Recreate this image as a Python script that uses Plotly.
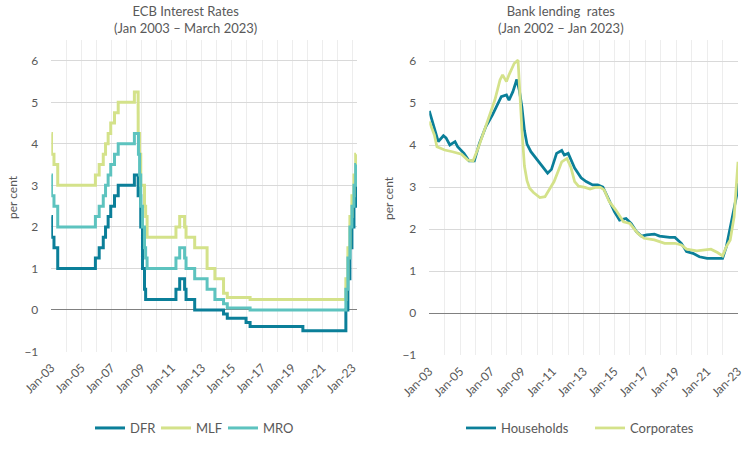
import plotly.graph_objects as go

# ---------------- Left panel: ECB interest rates (step data: change dates and levels) -------------
dfr_dates = ["2003-01-01", "2003-01-06", "2003-03-07", "2003-06-06", "2005-12-06", "2006-03-08",
             "2006-06-15", "2006-08-09", "2006-10-11", "2006-12-13", "2007-03-14", "2007-06-13",
             "2008-07-09", "2008-10-08", "2008-10-09", "2008-11-12", "2008-12-10", "2009-01-21",
             "2009-03-11", "2009-04-08", "2011-04-13", "2011-07-13", "2011-11-09", "2011-12-14",
             "2012-07-11", "2014-06-11", "2014-09-10", "2015-12-09", "2016-03-16", "2019-09-18",
             "2022-07-27", "2022-09-14", "2022-11-02", "2022-12-21", "2023-02-08", "2023-03-22",
             "2023-03-31"]
dfr_vals = [2.25, 1.75, 1.50, 1.00, 1.25, 1.50, 1.75, 2.00, 2.25, 2.50, 2.75, 3.00,
            3.25, 2.75, 3.25, 2.75, 2.00, 1.00, 0.50, 0.25, 0.50, 0.75, 0.50, 0.25,
            0.00, -0.10, -0.20, -0.30, -0.40, -0.50, 0.00, 0.75, 1.50, 2.00, 2.50, 3.00, 3.00]

mlf_dates = ["2003-01-01", "2003-01-06", "2003-03-07", "2003-06-06", "2005-12-06", "2006-03-08",
             "2006-06-15", "2006-08-09", "2006-10-11", "2006-12-13", "2007-03-14", "2007-06-13",
             "2008-07-09", "2008-10-08", "2008-10-09", "2008-11-12", "2008-12-10", "2009-03-11",
             "2009-04-08", "2009-05-13", "2011-04-13", "2011-07-13", "2011-11-09", "2011-12-14",
             "2012-07-11", "2013-05-08", "2013-11-13", "2014-06-11", "2014-09-10", "2016-03-16",
             "2022-07-27", "2022-09-14", "2022-11-02", "2022-12-21", "2023-02-08", "2023-03-22",
             "2023-03-31"]
mlf_vals = [4.25, 3.75, 3.50, 3.00, 3.25, 3.50, 3.75, 4.00, 4.25, 4.50, 4.75, 5.00,
            5.25, 4.75, 4.25, 3.75, 3.00, 2.50, 2.25, 1.75, 2.00, 2.25, 2.00, 1.75,
            1.50, 1.00, 0.75, 0.40, 0.30, 0.25, 0.75, 1.50, 2.25, 2.75, 3.25, 3.75, 3.75]

mro_dates = ["2003-01-01", "2003-01-06", "2003-03-07", "2003-06-06", "2005-12-06", "2006-03-08",
             "2006-06-15", "2006-08-09", "2006-10-11", "2006-12-13", "2007-03-14", "2007-06-13",
             "2008-07-09", "2008-10-15", "2008-11-12", "2008-12-10", "2009-01-21", "2009-03-11",
             "2009-04-08", "2009-05-13", "2011-04-13", "2011-07-13", "2011-11-09", "2011-12-14",
             "2012-07-11", "2013-05-08", "2013-11-13", "2014-06-11", "2014-09-10", "2016-03-16",
             "2022-07-27", "2022-09-14", "2022-11-02", "2022-12-21", "2023-02-08", "2023-03-22",
             "2023-03-31"]
mro_vals = [3.25, 2.75, 2.50, 2.00, 2.25, 2.50, 2.75, 3.00, 3.25, 3.50, 3.75, 4.00,
            4.25, 3.75, 3.25, 2.50, 2.00, 1.50, 1.25, 1.00, 1.25, 1.50, 1.25, 1.00,
            0.75, 0.50, 0.25, 0.15, 0.05, 0.00, 0.50, 1.25, 2.00, 2.50, 3.00, 3.50, 3.50]

# ---------------- Right panel: bank lending rates -------------
hh_dates = ["2003-01", "2003-08", "2003-12", "2004-02", "2004-05", "2004-09", "2004-11", "2005-04",
            "2005-08", "2005-12", "2006-04", "2006-09", "2007-02", "2007-09", "2008-01", "2008-03",
            "2008-06", "2008-09", "2008-11", "2009-01", "2009-03", "2009-05", "2009-08", "2010-02",
            "2010-07", "2010-09", "2010-12", "2011-04", "2011-08", "2011-10", "2012-01", "2012-06",
            "2012-11", "2013-03", "2013-08", "2013-12", "2014-04", "2014-08", "2015-01", "2015-05",
            "2015-10", "2016-02", "2016-06", "2016-10", "2017-02", "2017-08", "2017-12", "2018-08",
            "2018-12", "2019-05", "2019-09", "2020-02", "2020-07", "2021-01", "2021-11", "2022-01",
            "2022-04", "2022-07", "2022-10", "2022-12", "2023-01"]
hh_vals = [4.81, 4.08, 4.22, 4.17, 4.00, 4.08, 3.96, 3.80,
           3.62, 3.62, 4.04, 4.44, 4.71, 5.15, 5.19, 5.07,
           5.27, 5.56, 5.30, 4.90, 4.35, 4.02, 3.84, 3.60,
           3.40, 3.33, 3.42, 3.80, 3.87, 3.76, 3.80, 3.45,
           3.22, 3.13, 3.05, 3.05, 3.00, 2.73, 2.41, 2.21,
           2.25, 2.13, 1.94, 1.83, 1.86, 1.88, 1.83, 1.80,
           1.80, 1.66, 1.46, 1.42, 1.34, 1.30, 1.30, 1.30,
           1.58, 2.02, 2.50, 2.80, 3.09]

corp_dates = ["2003-01", "2003-05", "2003-07", "2004-01", "2004-07", "2005-02", "2005-07", "2005-11",
              "2006-03", "2006-07", "2006-11", "2007-04", "2007-08", "2007-10", "2008-01", "2008-03",
              "2008-07", "2008-10", "2009-01", "2009-03", "2009-05", "2009-07", "2009-10", "2010-03",
              "2010-07", "2010-10", "2011-02", "2011-05", "2011-08", "2011-12", "2012-03", "2012-06",
              "2012-09", "2013-02", "2013-06", "2013-10", "2014-02", "2014-05", "2014-09", "2015-02",
              "2015-08", "2016-01", "2016-07", "2016-12", "2017-08", "2018-04", "2018-12", "2019-05",
              "2019-09", "2020-05", "2020-11", "2021-04", "2021-09", "2022-01", "2022-04", "2022-07",
              "2022-10", "2022-12", "2023-01"]
corp_vals = [4.56, 4.24, 3.96, 3.88, 3.84, 3.78, 3.64, 3.62,
             3.92, 4.28, 4.67, 5.07, 5.55, 5.67, 5.51, 5.67,
             5.94, 6.02, 4.36, 3.50, 3.15, 2.97, 2.87, 2.75,
             2.77, 2.93, 3.13, 3.36, 3.60, 3.68, 3.48, 3.13,
             3.02, 2.99, 2.95, 2.99, 2.99, 2.93, 2.65, 2.45,
             2.17, 2.13, 1.90, 1.78, 1.74, 1.66, 1.66, 1.62,
             1.52, 1.48, 1.50, 1.52, 1.44, 1.36, 1.58, 1.74,
             2.29, 3.20, 3.60]

# ---------------- Styling / layout -------------
W, H = 756, 450
DARK = "#0B7F99"
LIGHT = "#D4E28A"
MID = "#5DC3BF"
TXT = "#595959"
FONT = "Lato, 'Open Sans', sans-serif"

L_x0, L_x1 = 51.3, 357.0
R_x0, R_x1 = 429.3, 738.0
TOP, L_BOT, R_BOT = 40.0, 351.5, 355.0
Y_MIN, Y_MAX = -1, 6.5

def fx(p):
    return p / W

def fy(p):
    return 1 - p / H

def zero_pos(bot):
    return fy(TOP + (Y_MAX - 0) / (Y_MAX - Y_MIN) * (bot - TOP))

left_range = ["2003-01-01", "2023-04-23"]
right_range = ["2003-01-01", "2023-01-01"]

fig = go.Figure()
fig.add_trace(go.Scatter(x=dfr_dates, y=dfr_vals, name="DFR", mode="lines",
                         line=dict(color=DARK, width=3, shape="hv"), xaxis="x", yaxis="y", legend="legend"))
fig.add_trace(go.Scatter(x=mlf_dates, y=mlf_vals, name="MLF", mode="lines",
                         line=dict(color=LIGHT, width=3, shape="hv"), xaxis="x", yaxis="y", legend="legend2"))
fig.add_trace(go.Scatter(x=mro_dates, y=mro_vals, name="MRO", mode="lines",
                         line=dict(color=MID, width=3, shape="hv"), xaxis="x", yaxis="y", legend="legend3"))
fig.add_trace(go.Scatter(x=hh_dates, y=hh_vals, name="Households", mode="lines",
                         line=dict(color=DARK, width=2.75), xaxis="x2", yaxis="y2", legend="legend4"))
fig.add_trace(go.Scatter(x=corp_dates, y=corp_vals, name="Corporates", mode="lines",
                         line=dict(color=LIGHT, width=2.75), xaxis="x2", yaxis="y2", legend="legend5"))

tickfont = dict(family=FONT, size=12, color=TXT)

def xaxis_cfg(dom, rng, anchor):
    return dict(domain=dom, anchor=anchor, type="date", range=rng, tick0="2003-01-01", dtick="M24",
                tickformat="%b-%y", tickangle=-45, tickfont=tickfont, showgrid=True,
                gridcolor="#EDEDED", gridwidth=1,
                minor=dict(dtick="M12", tick0="2003-01-01", showgrid=True, gridcolor="#EDEDED", gridwidth=1),
                showline=False, zeroline=False, ticks="", automargin=False, ticklabelstandoff=6,
                fixedrange=True)

def yaxis_cfg(dom, anchor):
    return dict(domain=dom, anchor=anchor, range=[Y_MIN, Y_MAX], dtick=1, tick0=0, tickfont=tickfont,
                showgrid=True, gridcolor="#D9D9D9", gridwidth=1, zeroline=True,
                zerolinecolor="#808080", zerolinewidth=1.3, showline=False, ticks="",
                automargin=False, ticklabelstandoff=12, fixedrange=True)

def tick_overlay(over, rng, pos):
    return dict(overlaying=over, anchor="free", position=pos, type="date", range=rng,
                tick0="2003-01-01", dtick="M24", ticks="outside", ticklen=4, tickwidth=1.2,
                tickcolor="#808080", showticklabels=False, showgrid=False, zeroline=False,
                showline=False, automargin=False, fixedrange=True)

legend_font = dict(family=FONT, size=13, color=TXT)

def legend_at(sample_x):
    return dict(orientation="h", x=fx(sample_x - 7), y=fy(428), xanchor="left", yanchor="middle",
                font=legend_font, bgcolor="rgba(0,0,0,0)", itemwidth=30)

fig.update_layout(
    width=W, height=H,
    margin=dict(l=0, r=0, t=0, b=0, autoexpand=False),
    paper_bgcolor="white", plot_bgcolor="white",
    font=dict(family=FONT, color=TXT),
    xaxis=xaxis_cfg([fx(L_x0), fx(L_x1)], left_range, "y"),
    yaxis=yaxis_cfg([fy(L_BOT), fy(TOP)], "x"),
    xaxis2=xaxis_cfg([fx(R_x0), fx(R_x1)], right_range, "y2"),
    yaxis2=yaxis_cfg([fy(R_BOT), fy(TOP)], "x2"),
    xaxis3=tick_overlay("x", left_range, zero_pos(L_BOT)),
    xaxis4=tick_overlay("x2", right_range, zero_pos(R_BOT)),
    legend=legend_at(97),
    legend2=legend_at(163),
    legend3=legend_at(230),
    legend4=legend_at(468),
    legend5=legend_at(597),
    showlegend=True,
    annotations=[
        dict(text="ECB Interest Rates<br>(Jan 2003 \u2013 March 2023)", x=fx(185), y=fy(20),
             xref="paper", yref="paper", xanchor="center", yanchor="middle", showarrow=False,
             font=dict(family=FONT, size=13, color=TXT)),
        dict(text="Bank lending  rates<br>(Jan 2002 \u2013 Jan 2023)", x=fx(561), y=fy(20),
             xref="paper", yref="paper", xanchor="center", yanchor="middle", showarrow=False,
             font=dict(family=FONT, size=13, color=TXT)),
        dict(text="per cent", x=fx(12), y=fy(197), xref="paper", yref="paper", textangle=-90,
             xanchor="center", yanchor="middle", showarrow=False,
             font=dict(family=FONT, size=12, color=TXT)),
        dict(text="per cent", x=fx(389), y=fy(198), xref="paper", yref="paper", textangle=-90,
             xanchor="center", yanchor="middle", showarrow=False,
             font=dict(family=FONT, size=12, color=TXT)),
    ],
)

fig.write_html("out.html", config={"displayModeBar": False},
               post_script="document.body.style.margin='0';document.body.style.overflow='hidden';")
